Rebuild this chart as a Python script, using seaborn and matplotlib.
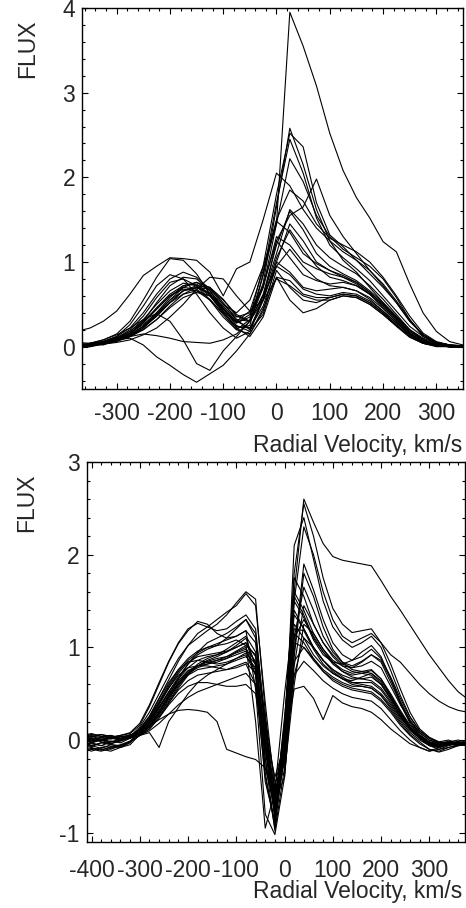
import matplotlib

matplotlib.use("Agg")
import matplotlib.pyplot as plt
from matplotlib.ticker import MultipleLocator
import pandas as pd
import seaborn as sns

# ---- top panel: velocity grid (km/s) and flux profiles ----
v_top = [-375, -350, -325, -300, -275, -250, -225, -200, -175, -150, -125, -100, -75, -50, -25,
         0, 25, 50, 75, 100, 125, 150, 175, 200, 225, 250, 275, 300, 325, 350]

top_profiles = [
    [0.00, 0.02, 0.05, 0.10, 0.16, 0.26, 0.40, 0.55, 0.66, 0.70, 0.64, 0.50, 0.40, 0.55, 0.95, 1.45, 3.95, 3.55, 3.08, 2.52, 2.08, 1.76, 1.52, 1.24, 1.12, 0.74, 0.40, 0.18, 0.06, 0.02],
    [0.02, 0.00, 0.04, 0.07, 0.12, 0.22, 0.38, 0.55, 0.70, 0.76, 0.70, 0.52, 0.32, 0.30, 0.75, 1.65, 2.58, 2.15, 1.62, 1.25, 1.02, 0.88, 0.70, 0.52, 0.35, 0.20, 0.10, 0.04, 0.01, 0.00],
    [-0.02, 0.03, 0.02, 0.08, 0.15, 0.30, 0.52, 0.72, 0.82, 0.80, 0.66, 0.45, 0.28, 0.35, 0.95, 1.80, 2.52, 2.36, 1.70, 1.32, 1.18, 1.02, 0.86, 0.70, 0.52, 0.30, 0.14, 0.05, 0.02, 0.00],
    [0.03, 0.01, 0.06, 0.10, 0.18, 0.32, 0.50, 0.66, 0.75, 0.72, 0.60, 0.40, 0.22, 0.25, 0.85, 1.70, 2.45, 2.05, 1.52, 1.20, 1.05, 0.92, 0.78, 0.60, 0.42, 0.24, 0.12, 0.05, 0.02, 0.01],
    [0.00, 0.04, 0.03, 0.09, 0.14, 0.24, 0.36, 0.52, 0.66, 0.72, 0.70, 0.56, 0.36, 0.30, 0.70, 1.45, 2.22, 1.95, 1.55, 1.30, 1.15, 1.05, 0.95, 0.80, 0.58, 0.32, 0.12, 0.04, 0.01, 0.00],
    [0.05, 0.02, 0.06, 0.12, 0.22, 0.40, 0.62, 0.80, 0.88, 0.82, 0.68, 0.50, 0.35, 0.40, 0.72, 1.25, 1.55, 1.65, 1.98, 1.55, 1.30, 1.10, 0.90, 0.72, 0.52, 0.30, 0.14, 0.05, 0.02, 0.01],
    [0.00, 0.02, 0.05, 0.09, 0.16, 0.28, 0.46, 0.62, 0.72, 0.74, 0.62, 0.44, 0.30, 0.42, 0.90, 1.50, 1.85, 1.72, 1.45, 1.28, 1.20, 1.12, 1.00, 0.82, 0.60, 0.36, 0.16, 0.06, 0.02, 0.00],
    [0.18, 0.22, 0.30, 0.42, 0.62, 0.84, 0.95, 1.05, 1.04, 1.02, 0.88, 0.60, 0.92, 1.00, 1.50, 2.05, 1.90, 1.62, 1.40, 1.25, 1.12, 1.02, 0.90, 0.74, 0.54, 0.32, 0.14, 0.05, 0.02, 0.01],
    [0.01, 0.03, 0.04, 0.07, 0.12, 0.20, 0.32, 0.48, 0.62, 0.70, 0.68, 0.55, 0.38, 0.30, 0.62, 1.20, 1.60, 1.38, 1.10, 0.95, 0.86, 0.78, 0.66, 0.52, 0.36, 0.20, 0.09, 0.03, 0.00, 0.00],
    [0.04, 0.00, 0.05, 0.10, 0.20, 0.36, 0.58, 0.76, 0.80, 0.72, 0.55, 0.35, 0.20, 0.32, 0.85, 1.48, 1.35, 1.10, 0.98, 0.90, 0.84, 0.76, 0.64, 0.50, 0.34, 0.18, 0.08, 0.02, 0.00, 0.01],
    [0.00, 0.02, 0.06, 0.11, 0.18, 0.30, 0.45, 0.60, 0.68, 0.66, 0.55, 0.40, 0.24, 0.22, 0.55, 1.05, 1.38, 1.15, 0.95, 0.82, 0.78, 0.72, 0.62, 0.48, 0.32, 0.16, 0.06, 0.02, 0.00, 0.00],
    [0.02, 0.01, 0.04, 0.08, 0.14, 0.24, 0.40, 0.58, 0.72, 0.76, 0.66, 0.45, 0.25, 0.18, 0.55, 1.25, 1.05, 0.85, 0.78, 0.74, 0.76, 0.72, 0.62, 0.46, 0.30, 0.14, 0.05, 0.01, 0.00, 0.00],
    [0.00, 0.03, 0.03, 0.07, 0.13, 0.22, 0.36, 0.52, 0.66, 0.70, 0.62, 0.46, 0.30, 0.22, 0.48, 0.95, 1.15, 0.95, 0.80, 0.72, 0.70, 0.66, 0.58, 0.45, 0.30, 0.15, 0.06, 0.02, 0.00, 0.00],
    [0.03, 0.02, 0.05, 0.09, 0.16, 0.28, 0.44, 0.60, 0.70, 0.68, 0.56, 0.38, 0.20, 0.15, 0.42, 1.00, 0.88, 0.70, 0.66, 0.68, 0.70, 0.66, 0.56, 0.42, 0.28, 0.14, 0.05, 0.01, 0.00, 0.00],
    [0.01, 0.00, 0.03, 0.06, 0.12, 0.20, 0.32, 0.46, 0.58, 0.64, 0.60, 0.48, 0.32, 0.20, 0.38, 0.90, 0.70, 0.55, 0.52, 0.58, 0.62, 0.60, 0.52, 0.40, 0.26, 0.12, 0.04, 0.00, 0.00, 0.00],
    [0.02, 0.03, 0.05, 0.08, 0.14, 0.24, 0.38, 0.52, 0.62, 0.66, 0.60, 0.42, 0.22, 0.12, 0.35, 0.82, 0.55, 0.40, 0.45, 0.55, 0.60, 0.58, 0.50, 0.38, 0.24, 0.11, 0.04, 0.01, 0.00, 0.00],
    [0.00, 0.04, 0.08, 0.15, 0.30, 0.55, 0.82, 1.04, 1.02, 0.86, 0.62, 0.42, 0.28, 0.38, 0.70, 1.30, 1.20, 1.00, 0.92, 0.86, 0.82, 0.76, 0.64, 0.50, 0.34, 0.18, 0.07, 0.02, 0.00, 0.00],
    [0.01, 0.02, 0.06, 0.12, 0.26, 0.48, 0.72, 0.85, 0.80, 0.62, 0.40, 0.22, 0.10, 0.18, 0.60, 1.10, 1.62, 1.45, 1.20, 1.05, 0.95, 0.86, 0.72, 0.56, 0.38, 0.20, 0.08, 0.02, 0.00, 0.00],
    [0.05, 0.04, 0.06, 0.08, 0.10, 0.02, -0.12, -0.22, -0.33, -0.42, -0.32, -0.22, -0.05, 0.15, 0.45, 0.82, 0.78, 0.62, 0.58, 0.58, 0.62, 0.60, 0.52, 0.40, 0.25, 0.12, 0.04, 0.01, 0.00, 0.00],
    [0.02, 0.03, 0.05, 0.08, 0.12, 0.15, 0.13, 0.10, 0.06, 0.05, 0.04, 0.08, 0.15, 0.30, 0.55, 0.80, 0.72, 0.60, 0.55, 0.55, 0.60, 0.58, 0.50, 0.38, 0.25, 0.12, 0.04, 0.01, 0.00, 0.00],
    [0.00, 0.04, 0.08, 0.14, 0.22, 0.32, 0.39, 0.30, 0.08, -0.20, -0.28, -0.05, 0.12, 0.30, 0.60, 0.95, 0.85, 0.68, 0.62, 0.60, 0.64, 0.62, 0.54, 0.42, 0.28, 0.14, 0.05, 0.01, 0.00, 0.00],
    [0.00, 0.01, 0.03, 0.05, 0.08, 0.14, 0.22, 0.35, 0.50, 0.68, 0.82, 0.80, 0.60, 0.42, 0.55, 1.00, 1.45, 1.25, 1.00, 0.90, 0.82, 0.74, 0.62, 0.48, 0.32, 0.16, 0.06, 0.02, 0.00, 0.00],
]

# ---- bottom panel ----
v_bot = [-420, -400, -380, -360, -340, -320, -300, -280, -260, -240, -220, -200, -180, -160,
         -140, -120, -100, -80, -60, -40, -20, 0, 20, 40, 60, 80, 100, 120, 140, 160, 180,
         200, 220, 240, 260, 280, 300, 320, 340, 360, 380]

bot_profiles = [
    [0.02, 0.00, 0.03, 0.01, 0.04, 0.03, 0.08, 0.15, 0.28, 0.42, 0.58, 0.72, 0.82, 0.88, 0.92, 0.98, 1.05, 1.12, 0.95, -0.10, -0.85, -0.20, 1.60, 2.60, 2.35, 2.12, 1.98, 1.94, 1.92, 1.90, 1.88, 1.72, 1.55, 1.40, 1.24, 1.08, 0.92, 0.78, 0.64, 0.52, 0.44],
    [-0.02, 0.01, -0.01, 0.02, 0.00, 0.05, 0.10, 0.20, 0.35, 0.52, 0.68, 0.82, 0.92, 0.98, 1.02, 1.10, 1.20, 1.30, 1.10, 0.10, -0.70, 0.10, 1.80, 2.55, 2.20, 1.75, 1.42, 1.25, 1.16, 1.18, 1.20, 1.05, 0.92, 0.84, 0.72, 0.60, 0.50, 0.42, 0.36, 0.32, 0.30],
    [-0.08, -0.06, -0.09, -0.05, -0.07, -0.02, 0.05, 0.12, 0.24, 0.40, 0.56, 0.70, 0.80, 0.86, 0.90, 0.95, 1.02, 1.10, 0.80, -0.35, -0.95, -0.10, 2.10, 2.40, 1.95, 1.50, 1.22, 1.08, 1.00, 1.05, 1.12, 1.00, 0.75, 0.48, 0.25, 0.10, 0.02, -0.02, -0.04, -0.05, -0.03],
    [0.05, 0.03, 0.06, 0.04, 0.02, 0.06, 0.07, 0.15, 0.30, 0.48, 0.66, 0.82, 0.95, 1.05, 1.10, 1.15, 1.22, 1.30, 1.15, 0.20, -0.60, 0.00, 1.50, 2.30, 2.00, 1.60, 1.30, 1.12, 1.05, 1.10, 1.15, 1.05, 0.82, 0.55, 0.30, 0.12, 0.03, -0.02, 0.00, -0.04, -0.02],
    [-0.04, -0.06, -0.03, -0.01, -0.03, 0.02, 0.12, 0.25, 0.45, 0.65, 0.85, 1.02, 1.15, 1.22, 1.30, 1.38, 1.45, 1.58, 1.45, 0.40, -0.55, -0.25, 0.95, 1.90, 1.62, 1.30, 1.05, 0.92, 0.86, 0.90, 0.98, 0.88, 0.68, 0.45, 0.25, 0.10, 0.02, -0.03, -0.02, 0.00, -0.03],
    [0.00, 0.02, -0.01, 0.03, 0.05, 0.08, 0.18, 0.38, 0.62, 0.85, 1.05, 1.20, 1.26, 1.22, 1.18, 1.20, 1.28, 1.35, 1.20, 0.15, -0.75, 0.20, 1.75, 1.55, 1.25, 1.05, 0.92, 0.82, 0.78, 0.80, 0.85, 0.78, 0.58, 0.38, 0.20, 0.08, 0.00, -0.04, -0.02, -0.05, -0.02],
    [-0.10, -0.08, -0.11, -0.07, -0.08, -0.03, 0.10, 0.20, 0.36, 0.52, 0.66, 0.78, 0.86, 0.90, 0.92, 0.95, 1.00, 1.05, 0.82, -0.20, -0.98, -0.30, 1.10, 1.65, 1.40, 1.12, 0.95, 0.84, 0.80, 0.85, 0.92, 0.84, 0.62, 0.40, 0.20, 0.06, -0.02, -0.05, -0.03, -0.06, -0.04],
    [0.03, 0.06, 0.04, 0.05, 0.02, 0.04, 0.08, 0.18, 0.34, 0.50, 0.64, 0.75, 0.80, 0.82, 0.84, 0.88, 0.95, 1.00, 0.70, -0.45, -0.88, 0.10, 1.55, 1.35, 1.10, 0.95, 0.84, 0.76, 0.72, 0.74, 0.76, 0.66, 0.48, 0.30, 0.14, 0.04, -0.04, -0.06, -0.03, -0.02, -0.05],
    [-0.12, -0.09, -0.10, -0.12, -0.08, -0.05, 0.06, 0.14, 0.28, 0.44, 0.60, 0.72, 0.80, 0.85, 0.88, 0.90, 0.94, 0.98, 0.85, 0.05, -0.65, -0.40, 0.80, 1.45, 1.25, 1.05, 0.90, 0.80, 0.74, 0.72, 0.70, 0.60, 0.44, 0.28, 0.14, 0.04, -0.03, -0.05, -0.02, -0.04, -0.02],
    [0.01, -0.02, 0.00, 0.03, 0.01, 0.03, 0.09, 0.20, 0.38, 0.56, 0.72, 0.84, 0.90, 0.92, 0.94, 0.96, 1.00, 1.05, 0.90, 0.00, -0.78, 0.25, 1.35, 1.20, 1.00, 0.86, 0.76, 0.68, 0.62, 0.60, 0.58, 0.50, 0.38, 0.24, 0.12, 0.03, -0.04, -0.08, -0.05, -0.03, -0.04],
    [-0.05, -0.03, -0.06, -0.02, 0.00, 0.04, 0.12, 0.26, 0.45, 0.62, 0.76, 0.84, 0.86, 0.84, 0.82, 0.84, 0.88, 0.92, 0.70, -0.30, -0.72, 0.15, 1.25, 1.10, 0.92, 0.80, 0.72, 0.66, 0.64, 0.68, 0.72, 0.64, 0.48, 0.30, 0.14, 0.04, -0.02, -0.05, -0.04, -0.02, -0.05],
    [-0.07, -0.04, -0.06, -0.08, -0.05, -0.01, 0.08, 0.16, 0.30, 0.46, 0.60, 0.70, 0.76, 0.78, 0.80, 0.82, 0.86, 0.90, 0.78, -0.10, -0.62, 0.00, 1.15, 1.05, 0.88, 0.76, 0.68, 0.62, 0.58, 0.58, 0.56, 0.48, 0.36, 0.22, 0.10, 0.02, -0.06, -0.10, -0.08, -0.05, -0.06],
    [0.06, 0.04, 0.03, 0.05, 0.02, 0.03, 0.06, 0.14, 0.26, 0.40, 0.54, 0.64, 0.70, 0.72, 0.74, 0.76, 0.80, 0.84, 0.72, 0.10, -0.40, -0.05, 0.70, 1.10, 1.00, 0.86, 0.74, 0.66, 0.60, 0.58, 0.56, 0.48, 0.34, 0.20, 0.08, 0.00, -0.06, -0.08, -0.04, -0.02, -0.03],
    [-0.03, -0.01, 0.01, -0.02, 0.01, 0.03, 0.10, 0.22, 0.40, 0.56, 0.70, 0.78, 0.80, 0.80, 0.78, 0.76, 0.78, 0.82, 0.60, -0.40, -0.90, -0.10, 1.05, 1.00, 0.86, 0.74, 0.66, 0.60, 0.56, 0.54, 0.52, 0.44, 0.32, 0.18, 0.06, -0.02, -0.10, -0.12, -0.08, -0.06, -0.04],
    [-0.09, -0.12, -0.08, -0.10, -0.06, -0.02, 0.05, 0.12, 0.24, 0.38, 0.50, 0.58, 0.62, 0.62, 0.60, 0.58, 0.58, 0.60, 0.50, -0.05, -0.50, 0.00, 0.55, 0.58, 0.45, 0.22, 0.48, 0.40, 0.36, 0.34, 0.30, 0.22, 0.12, 0.04, -0.04, -0.08, -0.12, -0.10, -0.06, -0.04, -0.05],
    [0.04, 0.02, 0.00, 0.02, 0.01, 0.04, 0.08, 0.15, 0.22, 0.28, 0.32, 0.33, 0.32, 0.30, 0.20, -0.10, -0.14, -0.18, -0.21, -0.30, -0.55, -0.20, 0.70, 0.85, 0.75, 0.64, 0.56, 0.50, 0.46, 0.44, 0.42, 0.34, 0.22, 0.10, 0.00, -0.08, -0.12, -0.08, -0.05, -0.04, -0.06],
    [-0.01, 0.02, -0.02, -0.04, 0.00, 0.02, 0.05, 0.08, -0.08, 0.20, 0.35, 0.50, 0.62, 0.70, 0.76, 0.82, 0.88, 0.94, 0.82, -0.05, -0.80, 0.05, 1.20, 1.18, 0.98, 0.82, 0.72, 0.66, 0.62, 0.62, 0.62, 0.54, 0.40, 0.25, 0.12, 0.02, -0.05, -0.08, -0.04, -0.03, -0.05],
    [-0.06, -0.03, 0.00, -0.04, -0.01, 0.04, 0.14, 0.30, 0.50, 0.70, 0.88, 1.02, 1.10, 1.18, 1.25, 1.35, 1.48, 1.60, 1.52, 0.30, -0.85, -0.05, 1.10, 1.30, 1.12, 0.95, 0.82, 0.74, 0.70, 0.72, 0.75, 0.66, 0.50, 0.32, 0.16, 0.05, -0.02, -0.04, -0.03, -0.05, -0.03],
    [0.02, 0.04, 0.01, 0.03, 0.00, 0.03, 0.10, 0.22, 0.40, 0.58, 0.74, 0.86, 0.94, 1.00, 1.04, 1.08, 1.12, 1.18, 0.55, -0.80, -1.02, -0.40, 0.90, 1.80, 1.55, 1.22, 0.98, 0.84, 0.76, 0.74, 0.72, 0.62, 0.46, 0.28, 0.12, 0.02, -0.05, -0.07, -0.05, -0.04, -0.02],
    [0.07, 0.05, 0.06, 0.03, 0.05, 0.07, 0.16, 0.36, 0.60, 0.84, 1.04, 1.18, 1.28, 1.25, 1.15, 1.10, 1.12, 1.18, 1.05, 0.10, -0.70, 0.15, 1.60, 1.40, 1.15, 0.98, 0.86, 0.80, 0.78, 0.84, 0.92, 0.86, 0.66, 0.42, 0.22, 0.08, 0.00, -0.03, -0.02, -0.04, -0.03],
    [-0.13, -0.10, -0.12, -0.09, -0.06, -0.02, 0.09, 0.18, 0.32, 0.48, 0.62, 0.72, 0.78, 0.82, 0.86, 0.90, 0.96, 1.02, 0.92, 0.25, -0.45, -0.35, 0.60, 1.25, 1.15, 0.98, 0.84, 0.74, 0.68, 0.66, 0.64, 0.56, 0.42, 0.26, 0.12, 0.03, -0.04, -0.06, -0.04, -0.02, -0.04],
    [0.00, -0.03, 0.01, -0.02, -0.01, 0.02, 0.07, 0.16, 0.30, 0.46, 0.62, 0.74, 0.80, 0.84, 0.86, 0.88, 0.92, 0.96, 0.75, -0.20, -0.80, 0.05, 1.50, 1.32, 1.08, 0.92, 0.84, 0.82, 0.86, 0.95, 1.02, 0.90, 0.66, 0.40, 0.18, 0.05, -0.03, -0.06, -0.03, -0.02, -0.04],
    [-0.04, -0.07, -0.03, -0.05, -0.06, -0.02, 0.05, 0.10, 0.18, 0.28, 0.38, 0.46, 0.52, 0.56, 0.60, 0.64, 0.68, 0.72, 0.60, -0.10, -0.60, -0.10, 0.85, 1.00, 0.88, 0.74, 0.64, 0.58, 0.54, 0.52, 0.50, 0.42, 0.30, 0.16, 0.05, -0.04, -0.10, -0.13, -0.10, -0.06, -0.05],
    [0.05, 0.07, 0.04, 0.02, 0.04, 0.05, 0.11, 0.24, 0.42, 0.60, 0.76, 0.88, 0.96, 1.00, 1.02, 1.04, 1.08, 1.02, 0.20, -0.95, -0.55, 0.50, 1.40, 1.20, 1.00, 0.86, 0.76, 0.70, 0.66, 0.66, 0.68, 0.60, 0.45, 0.28, 0.12, 0.02, -0.05, -0.06, -0.04, -0.06, -0.03],
]


def long_frame(v, profiles):
    rows = []
    for i, prof in enumerate(profiles):
        for x, y in zip(v, prof):
            rows.append((i, x, y))
    return pd.DataFrame(rows, columns=["spectrum", "velocity", "flux"])


sns.set_style("ticks")
plt.rcParams["font.family"] = ["Liberation Sans", "DejaVu Sans"]
plt.rcParams["axes.unicode_minus"] = False
fs = 16.5

fig = plt.figure(figsize=(4.66, 9.08), dpi=100)
ax_top = fig.add_axes([82 / 466, 1 - 389 / 908, 381 / 466, 381 / 908])
ax_bot = fig.add_axes([86.7 / 466, 1 - 842 / 908, 378.8 / 466, 380 / 908])

panels = [
    (ax_top, v_top, top_profiles, (-365, 350), (-0.5, 4.0), 9,
     (0.997, -0.147), (-0.144, 0.892)),
    (ax_bot, v_bot, bot_profiles, (-410, 375), (-1.1, 3.0), 12,
     (0.991, -0.129), (-0.158, 0.892)),
]

for ax, v, profiles, xlim, ylim, xpad, xl_pos, yl_pos in panels:
    df = long_frame(v, profiles)
    sns.lineplot(data=df, x="velocity", y="flux", units="spectrum", estimator=None,
                 color="black", lw=0.8, ax=ax, legend=False)
    ax.set_xlim(*xlim)
    ax.set_ylim(*ylim)
    ax.xaxis.set_major_locator(MultipleLocator(100))
    ax.xaxis.set_minor_locator(MultipleLocator(20))
    ax.yaxis.set_major_locator(MultipleLocator(1))
    ax.yaxis.set_minor_locator(MultipleLocator(0.2))
    ax.tick_params(which="both", direction="in", top=True, right=True, width=0.8,
                   color="black", labelsize=fs)
    ax.tick_params(which="major", length=4.5)
    ax.tick_params(which="minor", length=2.5)
    ax.tick_params(axis="x", pad=xpad)
    ax.tick_params(axis="y", pad=5)
    for sp in ax.spines.values():
        sp.set_visible(True)
        sp.set_linewidth(1.0)
        sp.set_color("black")
    ax.set_xlabel("Radial Velocity, km/s", fontsize=fs)
    ax.xaxis.set_label_coords(*xl_pos)
    ax.xaxis.label.set_ha("right")
    ax.xaxis.label.set_va("center")
    ax.set_ylabel("FLUX", fontsize=fs)
    ax.yaxis.set_label_coords(*yl_pos)
    ax.yaxis.label.set_va("center")
    ax.yaxis.label.set_ha("center")

fig.savefig("out.png", dpi=100)
